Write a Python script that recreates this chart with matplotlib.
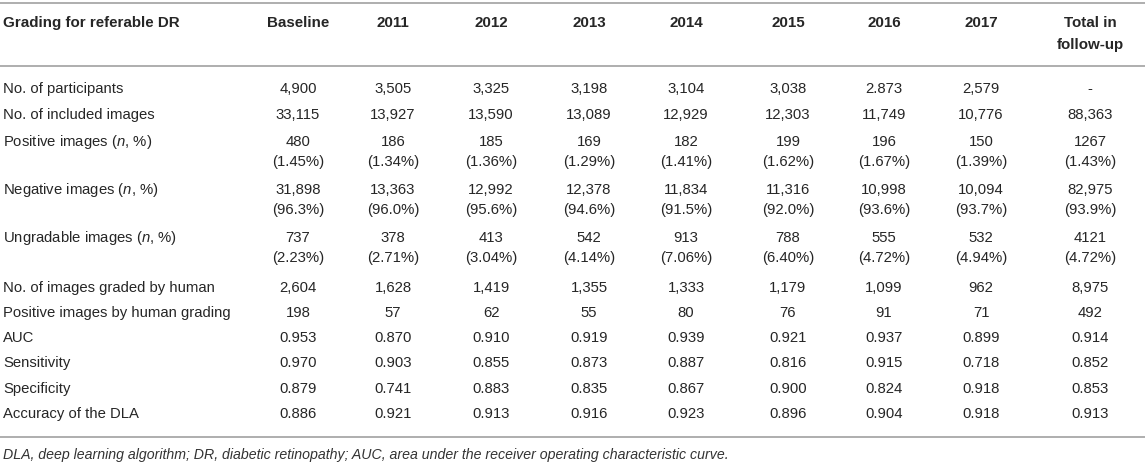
import matplotlib.pyplot as plt

plt.rcParams['font.family'] = ['Liberation Sans', 'DejaVu Sans']
plt.rcParams['mathtext.fontset'] = 'custom'
plt.rcParams['mathtext.rm'] = 'Liberation Sans'
plt.rcParams['mathtext.it'] = 'Liberation Sans:italic'

# table content
header_first = 'Grading for referable DR'
columns = ['Baseline', '2011', '2012', '2013', '2014', '2015', '2016', '2017', 'Total in\nfollow-up']
row_labels = ['No. of participants', 'No. of included images', 'Positive images ($n$, %)',
              'Negative images ($n$, %)', 'Ungradable images ($n$, %)',
              'No. of images graded by human', 'Positive images by human grading',
              'AUC', 'Sensitivity', 'Specificity', 'Accuracy of the DLA']

baseline = ['4,900', '33,115', '480\n(1.45%)', '31,898\n(96.3%)', '737\n(2.23%)',
            '2,604', '198', '0.953', '0.970', '0.879', '0.886']
y2011 = ['3,505', '13,927', '186\n(1.34%)', '13,363\n(96.0%)', '378\n(2.71%)',
         '1,628', '57', '0.870', '0.903', '0.741', '0.921']
y2012 = ['3,325', '13,590', '185\n(1.36%)', '12,992\n(95.6%)', '413\n(3.04%)',
         '1,419', '62', '0.910', '0.855', '0.883', '0.913']
y2013 = ['3,198', '13,089', '169\n(1.29%)', '12,378\n(94.6%)', '542\n(4.14%)',
         '1,355', '55', '0.919', '0.873', '0.835', '0.916']
y2014 = ['3,104', '12,929', '182\n(1.41%)', '11,834\n(91.5%)', '913\n(7.06%)',
         '1,333', '80', '0.939', '0.887', '0.867', '0.923']
y2015 = ['3,038', '12,303', '199\n(1.62%)', '11,316\n(92.0%)', '788\n(6.40%)',
         '1,179', '76', '0.921', '0.816', '0.900', '0.896']
y2016 = ['2.873', '11,749', '196\n(1.67%)', '10,998\n(93.6%)', '555\n(4.72%)',
         '1,099', '91', '0.937', '0.915', '0.824', '0.904']
y2017 = ['2,579', '10,776', '150\n(1.39%)', '10,094\n(93.7%)', '532\n(4.94%)',
         '962', '71', '0.899', '0.718', '0.918', '0.918']
total = ['-', '88,363', '1267\n(1.43%)', '82,975\n(93.9%)', '4121\n(4.72%)',
         '8,975', '492', '0.914', '0.852', '0.853', '0.913']
col_values = [baseline, y2011, y2012, y2013, y2014, y2015, y2016, y2017, total]

footnote = ('DLA, deep learning algorithm; DR, diabetic retinopathy; '
            'AUC, area under the receiver operating characteristic curve.')

# layout (pixels)
W, H = 1145, 467
col_x = [298, 393, 491, 589, 686, 788, 884, 981, 1090]
row_y = [89, 115, 142, 190, 238, 288, 313, 338, 363, 389, 414]
line_gap = 20
txt = '#262626'
fs = 10.7

fig = plt.figure(figsize=(W / 100, H / 100), dpi=100)
ax = fig.add_axes([0, 0, 1, 1])
ax.set_xlim(0, W)
ax.set_ylim(H, 0)
ax.axis('off')

for yy in [3, 66, 437]:
    ax.plot([0, W], [yy, yy], color='#a8a8a8', lw=1.3)

ax.text(3, 23, header_first, fontsize=10.9, fontweight='bold', color=txt, va='center', ha='left')
for x, c in zip(col_x, columns):
    for k, p in enumerate(c.split('\n')):
        ax.text(x, 23 + k * 22, p, fontsize=10.9, fontweight='bold', color=txt,
                va='center', ha='center')

for y, lab in zip(row_y, row_labels):
    ax.text(3, y, lab, fontsize=fs, color=txt, va='center', ha='left')

for x, vals in zip(col_x, col_values):
    for y, v in zip(row_y, vals):
        for k, p in enumerate(v.split('\n')):
            ax.text(x, y + k * line_gap, p, fontsize=fs, color=txt, va='center', ha='center')

ax.text(3, 455, footnote, fontsize=10.2, style='italic', color='#333333', va='center', ha='left')

fig.savefig('out.png', dpi=100)
